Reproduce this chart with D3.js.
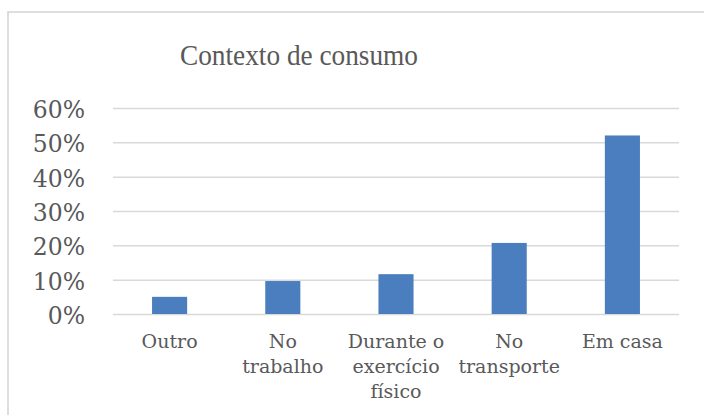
<!DOCTYPE html>
<html>
<head>
<meta charset="utf-8">
<script src="https://cdn.jsdelivr.net/npm/d3@7"></script>
<style>
  body { margin: 0; background: #fff; }
  svg { display: block; }
</style>
</head>
<body>
<div id="chart"></div>
<script>
// Data
var categories = ["Outro", "No trabalho", "Durante o exercício físico", "No transporte", "Em casa"];
var values = [0.05, 0.096, 0.116, 0.207, 0.52];
var yTicks = [0, 0.1, 0.2, 0.3, 0.4, 0.5, 0.6];
var title = "Contexto de consumo";

var width = 704, height = 415;
var plot = {left: 113, right: 679, top: 108, bottom: 314};
var grey = "#595959";

var svg = d3.select("#chart").append("svg")
    .attr("width", width)
    .attr("height", height);

// chart frame (runs past the right and bottom edge)
svg.append("rect")
    .attr("x", 8).attr("y", 12)
    .attr("width", 900).attr("height", 600)
    .attr("fill", "#fff")
    .attr("stroke", "#d6d6d6")
    .attr("stroke-width", 1.6);

svg.append("text")
    .attr("x", 299).attr("y", 65)
    .attr("text-anchor", "middle")
    .attr("font-family", "Liberation Serif")
    .attr("font-size", 29)
    .attr("textLength", 238)
    .attr("lengthAdjust", "spacingAndGlyphs")
    .attr("fill", grey)
    .text(title);

var x = d3.scaleBand()
    .domain(categories)
    .range([plot.left, plot.right])
    .paddingInner(0.69)
    .paddingOuter(0.345);

var y = d3.scaleLinear()
    .domain([0, 0.6])
    .range([plot.bottom, plot.top]);

// gridlines
var grid = svg.append("g")
    .attr("transform", "translate(" + plot.left + ",0)")
    .call(d3.axisLeft(y).tickValues(yTicks)
        .tickSize(-(plot.right - plot.left)).tickFormat(""));
grid.select(".domain").remove();
grid.selectAll("line").attr("stroke", "#d9d9d9").attr("stroke-width", 1.5);

// y axis labels
var yAxis = svg.append("g")
    .attr("transform", "translate(" + plot.left + ",0)")
    .call(d3.axisLeft(y).tickValues(yTicks).tickSize(0).tickPadding(28)
        .tickFormat(d3.format(".0%")));
yAxis.select(".domain").remove();
yAxis.selectAll("text")
    .attr("font-family", "DejaVu Serif")
    .attr("font-size", 23.5)
    .attr("fill", grey)
    .attr("dy", "0.4em");

// bars
svg.selectAll(".bar")
    .data(values)
    .enter().append("rect")
    .attr("class", "bar")
    .attr("x", function(d, i) { return x(categories[i]); })
    .attr("width", x.bandwidth())
    .attr("y", function(d) { return y(d); })
    .attr("height", function(d) { return y(0) - y(d); })
    .attr("fill", "#4a7ebf");

// x axis labels
var xAxis = svg.append("g")
    .attr("transform", "translate(0," + plot.bottom + ")")
    .call(d3.axisBottom(x).tickSize(0).tickPadding(0));
xAxis.select(".domain").remove();
xAxis.selectAll("text")
    .attr("font-family", "DejaVu Serif")
    .attr("font-size", 19)
    .attr("fill", grey)
    .attr("y", 34)
    .attr("dy", 0)
    .call(wrap, 106);

function wrap(texts, maxWidth) {
  texts.each(function() {
    var text = d3.select(this),
        words = text.text().split(" "),
        line = [],
        lineNo = 0,
        tx = text.attr("x") || 0,
        ty = text.attr("y"),
        tspan = text.text(null).append("tspan").attr("x", tx).attr("y", ty);
    words.forEach(function(word) {
      line.push(word);
      tspan.text(line.join(" "));
      if (tspan.node().getComputedTextLength() > maxWidth && line.length > 1) {
        line.pop();
        tspan.text(line.join(" "));
        line = [word];
        lineNo++;
        tspan = text.append("tspan").attr("x", tx)
            .attr("y", +ty + lineNo * 25).text(word);
      }
    });
  });
}
</script>
</body>
</html>
